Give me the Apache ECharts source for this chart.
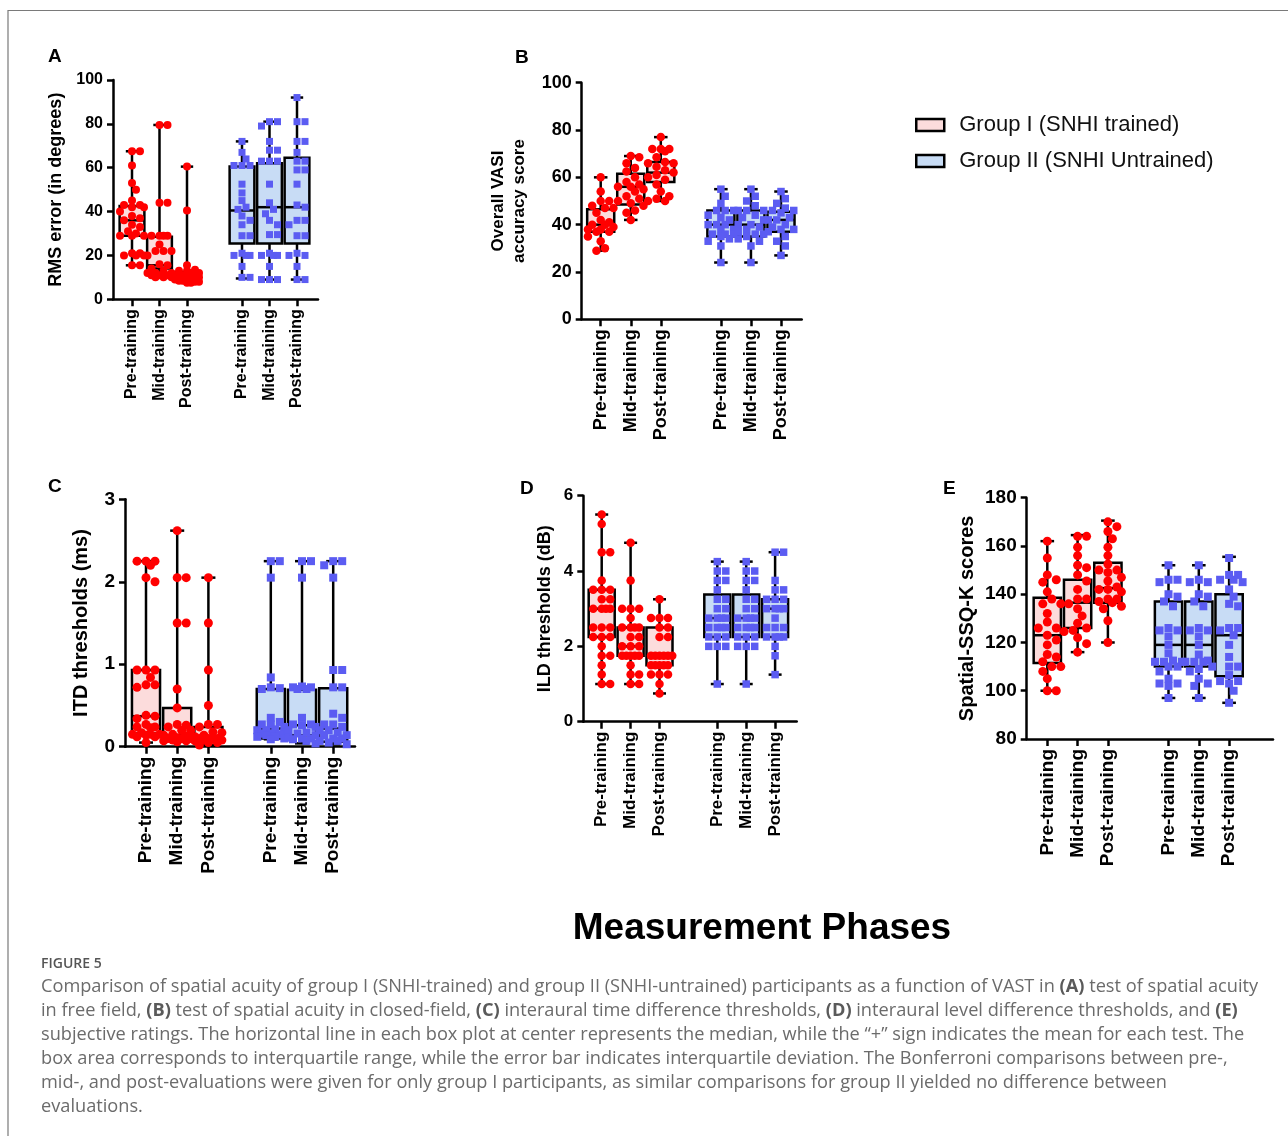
<!DOCTYPE html>
<html>
<head>
<meta charset="utf-8">
<script src="https://cdn.jsdelivr.net/npm/echarts@6/dist/echarts.min.js"></script>
<style>
    html, body { margin: 0; padding: 0; background: #fff; }
    #chart { width: 1288px; height: 1136px; }
</style>
</head>
<body>
<div id="chart"></div>
<script>
// categories (slot 3 is the gap between groups)
var phaseLabels = ['Pre-training', 'Mid-training', 'Post-training', '', 'Pre-training', 'Mid-training', 'Post-training'];
var groupNames = ['Group I (SNHI trained)', 'Group II (SNHI Untrained)'];

// A - RMS error (in degrees); box = [min, Q1, median, Q3, max]
var rmsBoxTrained = [[15.5, 29, 36, 42.5, 67.5], [10, 14, 15.5, 28.5, 79.5], [7.5, 9.5, 10, 12.5, 60.5]];
var rmsBoxUntrained = [[9.5, 25.5, 40.5, 60.5, 72], [9, 25.5, 42, 62, 81], [9, 25.5, 42, 64.5, 92]];
var rmsPtsTrained = [
    [67.5, 67.5, 61, 53, 50, 45, 43, 43, 42, 42, 40, 38, 37, 36, 34, 33, 31, 30, 29, 29, 29, 21, 21, 20, 20, 20, 15.5, 15.5],
    [79.5, 79.5, 44, 44, 29, 29, 29, 29, 25, 22, 22, 22, 20, 16, 15.5, 14, 13, 12, 12, 12, 11, 11, 11, 10, 10, 10],
    [60.5, 40.5, 15.5, 13.5, 13, 13, 12, 12, 11, 11, 11, 10, 10, 10, 10, 10, 9.5, 9, 9, 9, 8.5, 8.5, 8, 8, 7.5, 7.5]
];
var rmsPtsUntrained = [
    [72, 67, 64, 61, 61, 61, 52.5, 48.5, 45, 42, 41, 38, 36, 34, 29, 29, 21, 20, 20, 20, 15, 10, 10],
    [81, 81, 79, 72, 68, 68, 63, 63, 63, 52.5, 44, 41, 39, 36, 34, 29.5, 29.5, 21, 20, 20, 20, 15, 9, 9, 9],
    [92, 81, 81, 72, 72, 67, 63, 63, 59, 59, 52.5, 43, 42, 36, 36, 34, 29, 29, 21, 20, 20, 15, 9, 9]
];

// B - Overall VASI accuracy score
var vasiBoxTrained = [[29, 37, 40, 46.5, 60], [42, 48.5, 56, 61.5, 69], [50, 58, 62, 66.5, 77]];
var vasiBoxUntrained = [[24, 35, 40, 46, 55], [24, 35, 40, 46, 55], [27, 37, 42, 45.5, 54]];
var vasiPtsTrained = [
    [60, 54, 50, 50, 48, 47, 47, 45, 42, 41, 40, 40, 39, 38, 38, 37, 37, 35, 33, 30, 29],
    [69, 68.5, 66, 64, 62.5, 60, 58, 57, 56, 56, 55, 54, 52, 51, 50, 49, 48, 46, 45, 42],
    [77, 72, 72, 72, 71, 68.5, 66.5, 66, 66, 64.5, 63, 62, 61, 60, 59, 57, 54, 52, 51, 50, 50]
];
var vasiPtsUntrained = [
    [55, 52, 49, 46, 46, 46, 44, 43, 42, 40, 40, 40, 38, 38, 36, 36, 36, 35, 34, 33, 31, 24],
    [55, 52, 50, 48, 46, 46, 46, 44, 43, 42, 40, 40, 39, 38, 37, 36, 36, 35, 34, 33, 31, 24],
    [54, 51, 49, 47, 46, 46, 45, 43, 42, 42, 40, 39, 38, 38, 37, 35, 33, 31, 27]
];

// C - ITD thresholds (ms)
var itdBoxTrained = [[0.05, 0.16, 0.37, 0.93, 2.25], [0.06, 0.1, 0.14, 0.47, 2.62], [0.02, 0.07, 0.1, 0.24, 2.05]];
var itdBoxUntrained = [[0.09, 0.1, 0.22, 0.7, 2.25], [0.04, 0.14, 0.26, 0.69, 2.25], [0.03, 0.06, 0.22, 0.71, 2.25]];
var itdPtsTrained = [
    [2.25, 2.25, 2.25, 2.2, 2.05, 2.0, 0.93, 0.93, 0.93, 0.84, 0.75, 0.75, 0.72, 0.38, 0.37, 0.34, 0.27, 0.24, 0.24, 0.23, 0.17, 0.15, 0.15, 0.15, 0.14, 0.12, 0.12, 0.05],
    [2.62, 2.05, 2.05, 1.5, 1.5, 0.7, 0.47, 0.27, 0.26, 0.24, 0.2, 0.2, 0.15, 0.14, 0.13, 0.11, 0.1, 0.1, 0.1, 0.08, 0.07, 0.07, 0.06],
    [2.05, 1.5, 0.93, 0.5, 0.27, 0.27, 0.24, 0.18, 0.17, 0.14, 0.12, 0.1, 0.1, 0.1, 0.09, 0.08, 0.08, 0.07, 0.05, 0.05, 0.02]
];
var itdPtsUntrained = [
    [2.25, 2.25, 2.05, 0.84, 0.72, 0.71, 0.7, 0.35, 0.3, 0.27, 0.27, 0.24, 0.21, 0.2, 0.2, 0.17, 0.16, 0.16, 0.15, 0.14, 0.12, 0.12, 0.1, 0.09],
    [2.25, 2.25, 2.05, 0.73, 0.72, 0.72, 0.7, 0.7, 0.35, 0.27, 0.27, 0.26, 0.24, 0.2, 0.17, 0.16, 0.14, 0.11, 0.1, 0.1, 0.09, 0.07, 0.04],
    [2.25, 2.25, 2.2, 2.05, 0.93, 0.93, 0.72, 0.72, 0.4, 0.35, 0.27, 0.27, 0.24, 0.2, 0.2, 0.17, 0.14, 0.14, 0.1, 0.1, 0.07, 0.07, 0.05, 0.03]
];

// D - ILD thresholds (dB)
var ildBoxTrained = [[1, 2.25, 3, 3.5, 5.5], [1, 1.75, 2, 2.5, 4.75], [0.75, 1.5, 1.75, 2.5, 3.25]];
var ildBoxUntrained = [[1, 2.25, 2.75, 3.38, 4.25], [1, 2.25, 2.75, 3.38, 4.25], [1.25, 2.25, 3, 3.25, 4.5]];
var ildPtsTrained = [
    [5.5, 5.25, 4.5, 4.5, 3.75, 3.5, 3.5, 3.5, 3.25, 3.25, 3.0, 3.0, 3.0, 3.0, 2.5, 2.5, 2.5, 2.25, 2.25, 2.25, 2.0, 1.75, 1.75, 1.5, 1.25, 1.0, 1.0],
    [4.75, 3.75, 3.0, 3.0, 3.0, 2.75, 2.5, 2.5, 2.5, 2.5, 2.25, 2.25, 2.0, 2.0, 2.0, 1.75, 1.75, 1.75, 1.75, 1.75, 1.5, 1.25, 1.25, 1.0, 1.0],
    [3.25, 2.75, 2.75, 2.75, 2.5, 2.5, 2.25, 2.25, 1.75, 1.75, 1.75, 1.75, 1.75, 1.75, 1.5, 1.5, 1.5, 1.5, 1.5, 1.25, 1.25, 1.25, 1.0, 0.75]
];
var ildPtsUntrained = [
    [4.25, 4.0, 4.0, 3.75, 3.75, 3.5, 3.25, 3.25, 3.0, 3.0, 2.75, 2.75, 2.75, 2.75, 2.5, 2.5, 2.5, 2.5, 2.25, 2.25, 2.25, 2.0, 2.0, 2.0, 1.0],
    [4.25, 4.0, 4.0, 3.75, 3.75, 3.5, 3.25, 3.25, 3.0, 3.0, 2.75, 2.75, 2.75, 2.75, 2.5, 2.5, 2.5, 2.5, 2.25, 2.25, 2.25, 2.0, 2.0, 2.0, 1.0],
    [4.5, 4.5, 3.75, 3.5, 3.5, 3.25, 3.25, 3.25, 3.0, 3.0, 3.0, 3.0, 2.75, 2.5, 2.5, 2.5, 2.25, 2.25, 2.25, 2.25, 2.0, 1.75, 1.25]
];

// E - Spatial-SSQ-K scores
var ssqBoxTrained = [[100, 111.5, 123, 138.5, 162], [116, 126, 136.5, 146, 164.5], [120, 136.5, 142.5, 153, 170.5]];
var ssqBoxUntrained = [[97, 110, 119, 137, 152], [97, 110, 119, 137, 152], [95, 106, 123, 140, 155.5]];
var ssqPtsTrained = [
    [162, 155, 148, 146, 145, 141, 138, 136, 136, 132, 128.5, 126, 126, 123, 121, 119, 115, 114, 112, 110, 110, 108, 105, 100, 100],
    [164, 164, 159.5, 156, 152, 151, 148, 145.5, 142, 138, 138, 136, 134, 131, 128, 126, 125, 124.5, 122, 119.5, 116],
    [170, 168, 166, 163, 159.5, 156, 152.5, 150, 150, 149, 147, 145.5, 143, 142, 142, 141, 138, 138, 137, 136.5, 135, 134, 129, 120]
];
var ssqPtsUntrained = [
    [152, 146, 146, 145, 140, 139, 137, 135, 126, 125, 125, 122.5, 119, 115.5, 112.5, 112, 112, 112, 110, 110, 108, 105, 103, 103, 102, 97],
    [152, 146, 145, 145, 140, 139, 137, 135, 126, 125, 125, 122.5, 119, 115, 112.5, 112, 112, 112, 110, 109, 108, 105, 103, 102, 97],
    [155, 148, 148, 146, 146, 145, 142, 139, 136, 135, 126, 126, 125, 123, 119, 114, 110, 110, 106.5, 104, 104, 103, 100, 95]
];

var FONT = '"Liberation Sans", Arial, sans-serif';
var RED = '#ff0000';
var BLUE = '#5b5cf2';
var RED_FILL = '#fcdcdc';
var BLUE_FILL = '#c8dcf5';

// panel layout (pixels)
var panels = [
    {
        letter: 'A', letterPos: [48, 57],
        axisX: 113, xRight: 318, yTop: 80, yBottom: 299.3, firstCenter: 132, slotPx: 27.5,
        yMin: 0, yMax: 100, yStep: 20, tickFont: 16, catFont: 16, nameFont: 18, nameGap: 46, dot: 8,
        name: 'RMS error (in degrees)',
        box: [rmsBoxTrained, rmsBoxUntrained], pts: [rmsPtsTrained, rmsPtsUntrained]
    },
    {
        letter: 'B', letterPos: [515, 58],
        axisX: 581.7, xRight: 801.7, yTop: 82.7, yBottom: 319.3, firstCenter: 600.7, slotPx: 30.05,
        yMin: 0, yMax: 100, yStep: 20, tickFont: 18, catFont: 18, nameFont: 17, nameGap: 52, dot: 8.5,
        name: 'Overall VASI\naccuracy score',
        box: [vasiBoxTrained, vasiBoxUntrained], pts: [vasiPtsTrained, vasiPtsUntrained]
    },
    {
        letter: 'C', letterPos: [48, 487],
        axisX: 125, xRight: 355, yTop: 499.3, yBottom: 746.7, firstCenter: 146, slotPx: 31.2,
        yMin: 0, yMax: 3, yStep: 1, tickFont: 19, catFont: 19, nameFont: 20, nameGap: 32, dot: 9,
        name: 'ITD thresholds (ms)',
        box: [itdBoxTrained, itdBoxUntrained], pts: [itdPtsTrained, itdPtsUntrained]
    },
    {
        letter: 'D', letterPos: [520, 489],
        axisX: 583.3, xRight: 796.7, yTop: 495.7, yBottom: 721.7, firstCenter: 601.7, slotPx: 28.9,
        yMin: 0, yMax: 6, yStep: 2, tickFont: 17, catFont: 17, nameFont: 18, nameGap: 27, dot: 8.5,
        name: 'ILD thresholds (dB)',
        box: [ildBoxTrained, ildBoxUntrained], pts: [ildPtsTrained, ildPtsUntrained]
    },
    {
        letter: 'E', letterPos: [943, 489],
        axisX: 1026.7, xRight: 1273, yTop: 497.7, yBottom: 739, firstCenter: 1047.3, slotPx: 30.3,
        yMin: 80, yMax: 180, yStep: 20, tickFont: 19, catFont: 19, nameFont: 20, nameGap: 47, dot: 9,
        name: 'Spatial-SSQ-K scores',
        box: [ssqBoxTrained, ssqBoxUntrained], pts: [ssqPtsTrained, ssqPtsUntrained]
    }
];

var BOX_FRAC = 0.9;
var CAP_FRAC = 0.45;
var LINE_W = 2.5;

function boxRenderer(fill) {
    return function (params, api) {
        var s = api.value(0);
        var lo = api.coord([s, api.value(1)]);
        var q1 = api.coord([s, api.value(2)]);
        var md = api.coord([s, api.value(3)]);
        var q3 = api.coord([s, api.value(4)]);
        var hi = api.coord([s, api.value(5)]);
        var hb = api.size([BOX_FRAC, 0])[0] / 2;
        var hc = api.size([CAP_FRAC, 0])[0] / 2;
        var x = lo[0];
        var ls = { stroke: '#000', lineWidth: LINE_W };
        return {
            type: 'group',
            children: [
                { type: 'line', shape: { x1: x, y1: hi[1], x2: x, y2: q3[1] }, style: ls },
                { type: 'line', shape: { x1: x, y1: q1[1], x2: x, y2: lo[1] }, style: ls },
                { type: 'line', shape: { x1: x - hc, y1: hi[1], x2: x + hc, y2: hi[1] }, style: ls },
                { type: 'line', shape: { x1: x - hc, y1: lo[1], x2: x + hc, y2: lo[1] }, style: ls },
                { type: 'rect', shape: { x: x - hb, y: q3[1], width: hb * 2, height: q1[1] - q3[1] },
                  style: { fill: fill, stroke: '#000', lineWidth: LINE_W } },
                { type: 'line', shape: { x1: x - hb, y1: md[1], x2: x + hb, y2: md[1] }, style: ls }
            ]
        };
    };
}

// simple beeswarm: spread equal/near values sideways so dots don't sit on each other
function swarm(values, slot, pxPerUnit, slotPx, size) {
    var placed = [];
    var out = [];
    var step = size * 0.5;
    var maxOff = slotPx * 0.5;
    var cands = [0];
    for (var k = 1; k * step <= maxOff; k++) {
        cands.push(k * step, -k * step);
    }
    values.slice().sort(function (a, b) { return b - a; }).forEach(function (v) {
        var py = v * pxPerUnit;
        var best = 0, bestGap = -1;
        for (var c = 0; c < cands.length; c++) {
            var px = cands[c];
            var gap = Infinity;
            for (var j = 0; j < placed.length; j++) {
                var d = Math.sqrt(Math.pow(placed[j][0] - px, 2) + Math.pow(placed[j][1] - py, 2));
                if (d < gap) gap = d;
            }
            if (gap >= size * 0.9) { best = px; bestGap = gap; break; }
            if (gap > bestGap) { bestGap = gap; best = px; }
        }
        placed.push([best, py]);
        out.push([slot + best / slotPx, v]);
    });
    return out;
}

var grids = [], xAxes = [], yAxes = [], series = [], graphics = [];

panels.forEach(function (p, i) {
    var plotW = p.xRight - p.axisX;
    var plotH = p.yBottom - p.yTop;
    var axisStyle = { color: '#000', width: LINE_W };

    grids.push({ left: p.axisX, top: p.yTop, width: plotW, height: plotH });
    grids.push({ left: p.firstCenter - p.slotPx / 2, top: p.yTop, width: p.slotPx * 7, height: plotH });

    xAxes.push({
        gridIndex: 2 * i, type: 'value',
        min: -(p.firstCenter - p.axisX) / p.slotPx,
        max: (p.xRight - p.firstCenter) / p.slotPx,
        axisLine: { show: true, onZero: false, lineStyle: axisStyle },
        axisTick: { show: false }, axisLabel: { show: false }, splitLine: { show: false }
    });
    xAxes.push({
        gridIndex: 2 * i + 1, type: 'category', data: phaseLabels, boundaryGap: true,
        axisLine: { show: false },
        axisTick: {
            show: true, alignWithLabel: true, length: 7, lineStyle: axisStyle,
            interval: function (idx, val) { return val !== ''; }
        },
        axisLabel: {
            interval: 0, rotate: 90, margin: 10, color: '#000',
            fontSize: p.catFont, fontWeight: 'bold', fontFamily: FONT
        }
    });

    yAxes.push({
        gridIndex: 2 * i, type: 'value', min: p.yMin, max: p.yMax, interval: p.yStep,
        axisLine: { show: true, onZero: false, lineStyle: axisStyle },
        axisTick: { show: true, length: 6, lineStyle: axisStyle },
        axisLabel: { color: '#000', fontSize: p.tickFont, fontWeight: 'bold', fontFamily: FONT, margin: 10 },
        splitLine: { show: false },
        name: p.name, nameLocation: 'middle', nameRotate: 90, nameGap: p.nameGap,
        nameTextStyle: { color: '#000', fontSize: p.nameFont, fontWeight: 'bold', fontFamily: FONT, lineHeight: p.nameFont + 4 }
    });
    yAxes.push({ gridIndex: 2 * i + 1, type: 'value', show: false, min: 0, max: 1 });

    var pxPerUnit = plotH / (p.yMax - p.yMin);
    [0, 1].forEach(function (g) {
        var first = g === 0 ? 0 : 4;
        var boxData = p.box[g].map(function (b, k) { return [first + k].concat(b); });
        series.push({
            type: 'custom', name: groupNames[g],
            xAxisIndex: 2 * i, yAxisIndex: 2 * i,
            renderItem: boxRenderer(g === 0 ? RED_FILL : BLUE_FILL),
            encode: { x: 0, y: [1, 2, 3, 4, 5] },
            data: boxData, z: 2, silent: true,
            itemStyle: { color: g === 0 ? RED_FILL : BLUE_FILL }
        });
        var dots = [];
        p.pts[g].forEach(function (vals, k) {
            dots = dots.concat(swarm(vals, first + k, pxPerUnit, p.slotPx, p.dot));
        });
        series.push({
            type: 'scatter', name: groupNames[g] + ' points',
            xAxisIndex: 2 * i, yAxisIndex: 2 * i,
            symbol: g === 0 ? 'circle' : 'rect',
            symbolSize: g === 0 ? p.dot : p.dot - 1,
            itemStyle: { color: g === 0 ? RED : BLUE, opacity: 1 },
            data: dots, z: 3, silent: true, clip: false
        });
    });

    graphics.push({
        type: 'text', x: p.letterPos[0], y: p.letterPos[1],
        style: { text: p.letter, font: 'bold 19px ' + FONT, fill: '#000', verticalAlign: 'middle' }
    });
});

var captionLines = [
    'Comparison of spatial acuity of group I (SNHI-trained) and group II (SNHI-untrained) participants as a function of VAST in {b|(A)} test of spatial acuity',
    'in free field, {b|(B)} test of spatial acuity in closed-field, {b|(C)} interaural time difference thresholds, {b|(D)} interaural level difference thresholds, and {b|(E)}',
    'subjective ratings. The horizontal line in each box plot at center represents the median, while the \u201c+\u201d sign indicates the mean for each test. The',
    'box area corresponds to interquartile range, while the error bar indicates interquartile deviation. The Bonferroni comparisons between pre-,',
    'mid-, and post-evaluations were given for only group I participants, as similar comparisons for group II yielded no difference between',
    'evaluations.'
];
var CAP_FONT = '"Open Sans", Lato, sans-serif';
var CAP_SIZE = '18.2px ';

captionLines.forEach(function (t, k) {
    graphics.push({
        type: 'text', x: 41, y: 987 + k * 24,
        style: {
            text: t, font: CAP_SIZE + CAP_FONT, fill: '#6b6b6b', verticalAlign: 'middle',
            rich: { b: { font: 'bold ' + CAP_SIZE + CAP_FONT, fill: '#5a5a5a' } }
        }
    });
});

graphics.push(
    {
        type: 'polyline', silent: true,
        shape: { points: [[8, 1136], [8, 10.5], [1288, 10.5]] },
        style: { stroke: '#7a7a7a', lineWidth: 1.2, fill: null }
    },
    {
        type: 'text', x: 762, y: 929,
        style: { text: 'Measurement Phases', font: 'bold 37px ' + FONT, fill: '#000', align: 'center', verticalAlign: 'middle' }
    },
    {
        type: 'text', x: 41, y: 964,
        style: { text: 'FIGURE 5', font: '600 14px ' + CAP_FONT, fill: '#555', verticalAlign: 'middle' }
    }
);

var chart = echarts.init(document.getElementById('chart'));
chart.setOption({
    backgroundColor: '#fff',
    animation: false,
    textStyle: { fontFamily: FONT },
    legend: {
        left: 915, top: 114, orient: 'vertical', padding: 0,
        itemWidth: 28, itemHeight: 12, itemGap: 14,
        selectedMode: false,
        textStyle: { fontSize: 22, color: '#111', fontFamily: FONT, lineHeight: 22, padding: [0, 0, 0, 10] },
        data: [
            { name: groupNames[0], icon: 'rect', itemStyle: { color: RED_FILL, borderColor: '#000', borderWidth: 2.5 } },
            { name: groupNames[1], icon: 'rect', itemStyle: { color: BLUE_FILL, borderColor: '#000', borderWidth: 2.5 } }
        ]
    },
    grid: grids,
    xAxis: xAxes,
    yAxis: yAxes,
    series: series,
    graphic: graphics
});
</script>
</body>
</html>
